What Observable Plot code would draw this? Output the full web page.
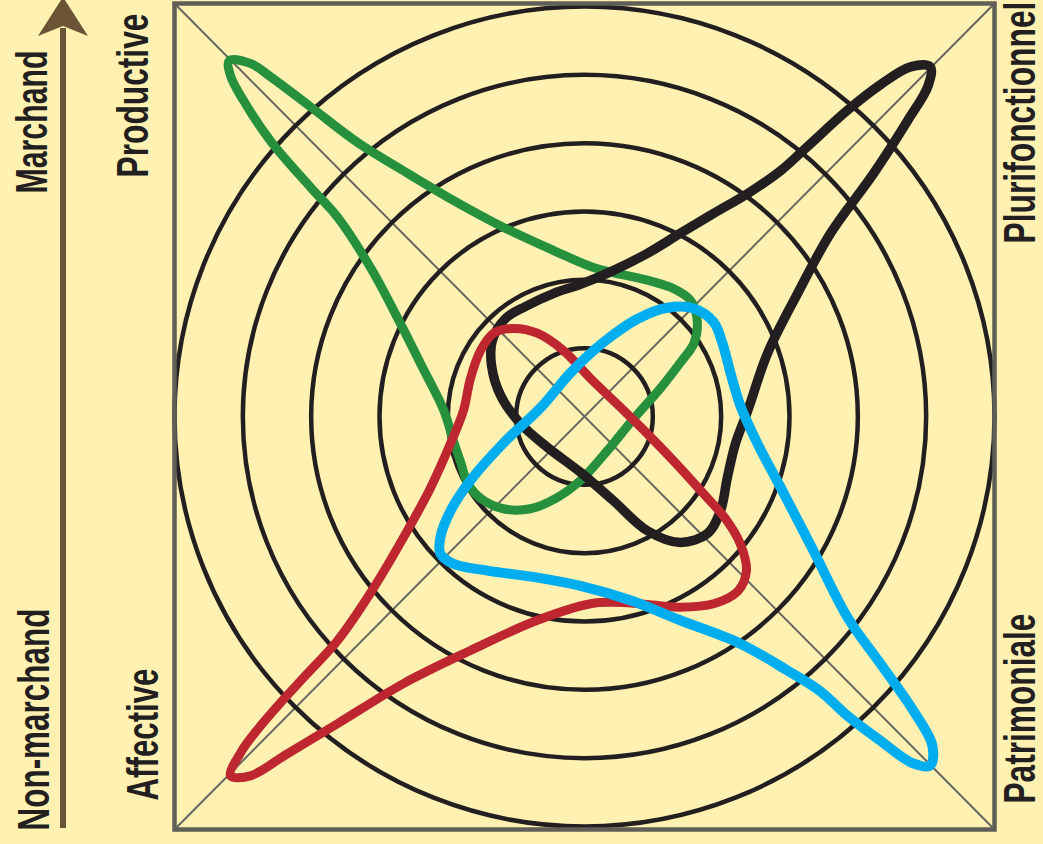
<!DOCTYPE html>
<html>
<head>
<meta charset="utf-8">
<script src="https://cdn.jsdelivr.net/npm/d3@7"></script>
<script src="https://cdn.jsdelivr.net/npm/@observablehq/plot@0.6"></script>
<style>
  html, body { margin: 0; padding: 0; background: #FEF1B2; }
  #chart svg { display: block; }
</style>
</head>
<body>
<div id="chart"></div>
<script>
// ---- Data (units = ring index; outer ring = 6) ----
const rings = [1, 2, 3, 4, 5, 6];

// Productive (green)
const greenX = [-5.20,-4.89,-4.60,-4.01,-3.32,-2.65,-1.92,-1.19,-0.45,0.09,0.42,0.92,1.30,1.55,1.65,1.60,1.40,1.11,0.72,0.34,-0.06,-0.42,-0.79,-1.19,-1.52,-1.71,-1.81,-1.92,-2.06,-2.40,-2.74,-3.13,-3.61,-4.01,-4.60,-4.99,-5.18];
const greenY = [5.17,5.13,4.94,4.50,3.98,3.57,3.14,2.75,2.41,2.18,2.09,1.98,1.86,1.69,1.39,1.06,0.78,0.41,-0.03,-0.49,-0.93,-1.19,-1.34,-1.34,-1.19,-0.97,-0.67,-0.35,0.09,0.77,1.44,2.16,2.89,3.33,4.01,4.59,4.95];

// Plurifonctionnel (black)
const blackX = [5.06,5.03,4.73,4.23,3.60,3.12,2.68,2.39,2.21,2.09,1.99,1.80,1.40,0.92,0.42,-0.06,-0.54,-0.94,-1.23,-1.36,-1.35,-1.16,-0.86,-0.45,-0.06,0.42,0.92,1.40,1.89,2.39,2.87,3.26,3.85,4.33,4.77];
const blackY = [5.08,4.81,4.30,3.53,2.66,1.79,0.92,0.09,-0.39,-0.89,-1.37,-1.70,-1.83,-1.66,-1.22,-0.81,-0.45,-0.10,0.31,0.74,1.10,1.42,1.60,1.79,1.92,2.12,2.37,2.66,2.95,3.24,3.57,3.92,4.45,4.82,5.08];

// Affective (red)
const redX = [-5.18,-5.03,-4.77,-4.45,-4.08,-3.61,-3.13,-2.65,-2.25,-1.96,-1.77,-1.67,-1.52,-1.33,-1.04,-0.69,-0.31,0.09,0.53,0.92,1.30,1.74,2.06,2.28,2.37,2.25,1.89,1.40,0.92,0.42,0.09,-0.69,-1.67,-2.65,-3.61,-4.35,-4.89];
const redY = [-5.22,-4.88,-4.53,-4.16,-3.76,-3.25,-2.56,-1.76,-1.03,-0.39,0.09,0.55,0.96,1.21,1.28,1.21,0.96,0.55,0.13,-0.25,-0.64,-1.12,-1.48,-1.85,-2.24,-2.53,-2.72,-2.77,-2.73,-2.70,-2.72,-2.96,-3.40,-3.88,-4.46,-4.90,-5.22];

// Patrimoniale (blue)
const blueX = [5.06,4.81,4.33,3.85,3.45,2.97,2.28,1.40,0.67,-0.06,-0.69,-1.42,-1.92,-2.11,-2.11,-1.96,-1.67,-1.19,-0.64,-0.20,0.28,0.78,1.21,1.60,1.89,2.02,2.14,2.28,2.53,2.87,3.35,3.85,4.33,4.81,5.09];
const blueY = [-5.07,-5.04,-4.71,-4.35,-3.99,-3.69,-3.30,-2.96,-2.67,-2.46,-2.34,-2.24,-2.14,-1.99,-1.76,-1.37,-0.93,-0.39,0.13,0.64,1.08,1.42,1.58,1.57,1.37,1.06,0.62,0.16,-0.39,-1.03,-1.95,-2.92,-3.59,-4.27,-4.78];

const extent = 6;
const diagonals = [
  {x1: -extent, y1: -extent, x2: extent, y2: extent},
  {x1: -extent, y1: extent, x2: extent, y2: -extent}
];

const labelLeftTop = "Marchand";
const labelLeftBottom = "Non-marchand";
const labelTopLeft = "Productive";
const labelBottomLeft = "Affective";
const labelTopRight = "Plurifonctionnel";
const labelBottomRight = "Patrimoniale";

// ---- Helpers ----
const pts = (xs, ys) => xs.map((x, i) => [x, ys[i]]);
const INK = "#231F20";
const FONT = "'Liberation Sans', Arial, sans-serif";

const labelStyle = {
  text: d => d, rotate: -90, lineAnchor: "bottom", textAnchor: "start",
  fontSize: 44, fontWeight: "bold", fontFamily: FONT, fill: INK
};

function arrowMark(index, scales, values, dimensions) {
  const ax = dimensions.marginLeft - 111;
  const g = d3.create("svg:g");
  g.append("line")
    .attr("x1", ax).attr("x2", ax)
    .attr("y1", dimensions.height - 16).attr("y2", 28)
    .attr("stroke", "#6B5436").attr("stroke-width", 6);
  g.append("path")
    .attr("d", `M${ax},-3 L${ax + 25},36 L${ax},26 L${ax - 25},36 Z`)
    .attr("fill", "#6B5436");
  return g.node();
}

const chart = Plot.plot({
  width: 1043,
  height: 844,
  marginLeft: 174,
  marginRight: 49,
  marginTop: 3,
  marginBottom: 15,
  style: { background: "#FEF1B2", overflow: "visible" },
  x: { domain: [-extent, extent], axis: null },
  y: { domain: [-extent, extent], axis: null },
  r: { type: "linear", domain: [0, extent], range: [0, 410] },
  marks: [
    Plot.link(diagonals, { x1: "x1", y1: "y1", x2: "x2", y2: "y2", stroke: "#676660", strokeWidth: 2 }),
    Plot.dot(rings, { x: () => 0, y: () => 0, r: d => d, stroke: INK, strokeWidth: 4.5, fill: "none" }),
    Plot.frame({ stroke: "#5F5E57", strokeWidth: 4.5 }),
    Plot.line(pts(greenX, greenY), { curve: "catmull-rom-closed", stroke: "#27903D", strokeWidth: 9, strokeLinejoin: "round" }),
    Plot.line(pts(blackX, blackY), { curve: "catmull-rom-closed", stroke: INK, strokeWidth: 9.5, strokeLinejoin: "round" }),
    Plot.line(pts(redX, redY), { curve: "catmull-rom-closed", stroke: "#BE2630", strokeWidth: 9, strokeLinejoin: "round" }),
    Plot.line(pts(blueX, blueY), { curve: "catmull-rom-closed", stroke: "#00ADEE", strokeWidth: 10, strokeLinejoin: "round" }),
    Plot.text([labelLeftTop], { ...labelStyle, frameAnchor: "top-left", dx: -128, dy: 190 }),
    Plot.text([labelTopLeft], { ...labelStyle, frameAnchor: "top-left", dx: -27, dy: 174 }),
    Plot.text([labelLeftBottom], { ...labelStyle, frameAnchor: "bottom-left", dx: -126, dy: 1 }),
    Plot.text([labelBottomLeft], { ...labelStyle, frameAnchor: "bottom-left", dx: -17, dy: -29 }),
    Plot.text([labelTopRight], { ...labelStyle, frameAnchor: "top-right", dx: 40, dy: 240 }),
    Plot.text([labelBottomRight], { ...labelStyle, frameAnchor: "bottom-right", dx: 40, dy: -26 }),
    arrowMark
  ]
});

document.getElementById("chart").appendChild(chart);

// condense the labels to the reference lengths with a real transform
const labelLengths = new Map([
  [labelLeftTop, 143], [labelTopLeft, 164], [labelLeftBottom, 222],
  [labelBottomLeft, 132], [labelTopRight, 242], [labelBottomRight, 190]
]);
d3.select(chart).selectAll("text").each(function () {
  const len = labelLengths.get(this.textContent);
  if (len) {
    const natural = this.getComputedTextLength();
    const sx = natural > 0 ? len / natural : 1;
    const t = this.getAttribute("transform") || "";
    this.setAttribute("transform", `${t} scale(${sx.toFixed(4)},1)`);
  }
});
</script>
</body>
</html>
